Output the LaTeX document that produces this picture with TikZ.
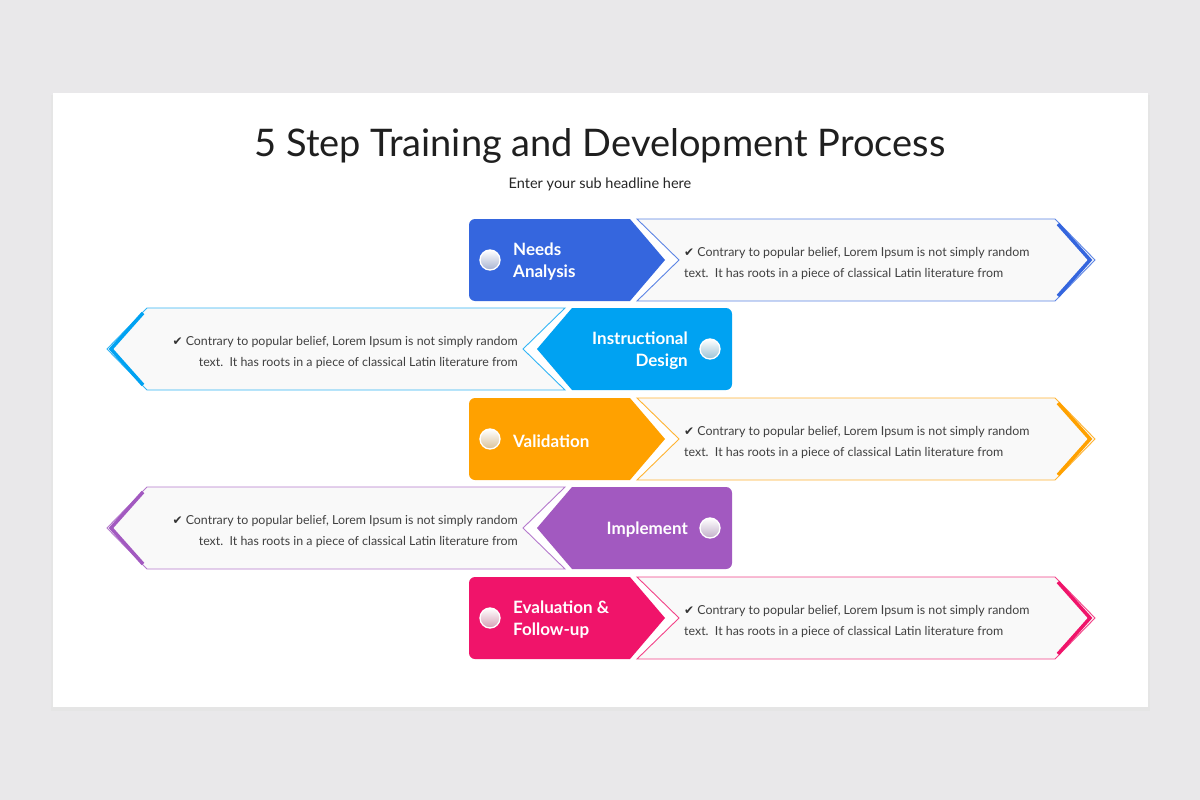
\documentclass[tikz,border=0pt]{standalone}
\usepackage{fontspec}
\setmainfont{Lato}
\newfontfamily\dv{DejaVu Sans}
\definecolor{bg}{HTML}{E9E8EA}
\definecolor{cA}{HTML}{3566DE}
\definecolor{cB}{HTML}{00A2F2}
\definecolor{cC}{HTML}{FFA100}
\definecolor{cD}{HTML}{A259C0}
\definecolor{cE}{HTML}{F0146A}
\definecolor{txt}{HTML}{404040}
\tikzset{
  hdr/.style={text=white, font=\fontsize{17}{22}\selectfont\bfseries, inner sep=0},
  body/.style={text=txt, font=\fontsize{12.4}{21}\selectfont, inner sep=0},
  ball/.style={circle, draw=white, line width=1.3, minimum size=20, inner sep=0, top color=white, bottom color=#1!45!gray!55},
}
\newcommand{\bodytext}{{\dv\fontsize{12}{21}\selectfont\color{black!80}✔}\ Contrary to popular belief, Lorem Ipsum is not simply random\\text.\ \ It has roots in a piece of classical Latin literature from}
\newcommand{\rowR}[4]{%
  \filldraw[draw=#2!80, fill=gray!5, line width=0.9] (637,#1-41) -- (1055,#1-41) -- (1095,#1) -- (1055,#1+41) -- (637,#1+41) -- (679,#1) -- cycle;
  \draw[#2, line width=3.5] (1058,#1-36) -- (1090,#1) -- (1058,#1+36);
  \fill[#2] (665,#1) -- (630,#1-41) [rounded corners=6] -- (469,#1-41) -- (469,#1+41) [sharp corners] -- (630,#1+41) -- cycle;
  \node[ball=#2] (b#3) at (490,#1) {};
  \node[hdr, anchor=west, align=left] (h#3) at (513,#1+2) {#4};
  \node[body, anchor=west, align=left] (t#3) at (684,#1+3) {\bodytext};
}
\newcommand{\rowL}[4]{%
  \filldraw[draw=#2!80, fill=gray!5, line width=0.9] (565,#1-41) -- (147,#1-41) -- (107,#1) -- (147,#1+41) -- (565,#1+41) -- (523,#1) -- cycle;
  \draw[#2, line width=3.5] (143,#1-36) -- (111,#1) -- (143,#1+36);
  \fill[#2] (537,#1) -- (572,#1-41) [rounded corners=6] -- (732,#1-41) -- (732,#1+41) [sharp corners] -- (572,#1+41) -- cycle;
  \node[ball=#2] (b#3) at (710,#1) {};
  \node[hdr, anchor=east, align=right] (h#3) at (688,#1+2) {#4};
  \node[body, anchor=east, align=right] (t#3) at (518,#1+3) {\bodytext};
}
\begin{document}
\begin{tikzpicture}[x=1pt,y=-1pt]
\fill[bg] (0,0) rectangle (1200,800);
\useasboundingbox (0,0) rectangle (1200,800);
\fill[black!10] (51,95) rectangle (1150,711);
\fill[white] (53,93) rectangle (1148,707);
\node[font=\fontsize{38}{44}\selectfont, text=black!88] (title) at (600,146) {5 Step Training and Development Process};
\node[font=\fontsize{14.5}{18}\selectfont, text=black!85] (sub) at (600,184) {Enter your sub headline here};
\rowR{260}{cA}{A}{Needs\\Analysis}
\rowL{349}{cB}{B}{Instructional\\Design}
\rowR{439}{cC}{C}{Validation}
\rowL{528}{cD}{D}{Implement}
\rowR{618}{cE}{E}{Evaluation \&\\Follow-up}
\end{tikzpicture}
\end{document}
